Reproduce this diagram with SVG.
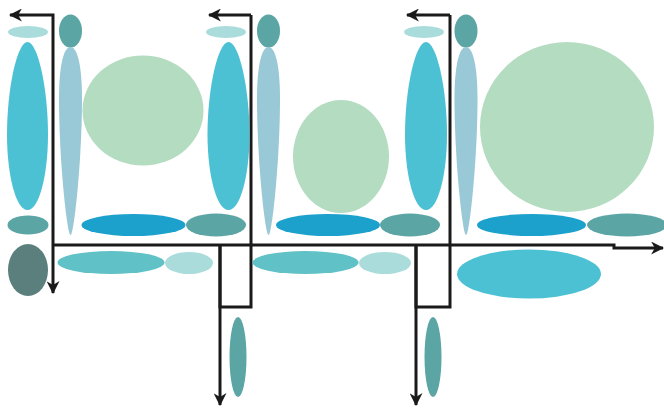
<svg xmlns="http://www.w3.org/2000/svg" width="664" height="408" viewBox="0 0 664 408">
<style>
.ln{fill:none;stroke:#1a1a1a;stroke-width:3;stroke-linejoin:miter}
.cy{fill:#4dc1d4}.lb{fill:#99c8d6}.tl{fill:#5ba5a5}.pl{fill:#abdcdc}.gr{fill:#b3dcc1}.bl{fill:#1ca0cc}.cz{fill:#60c2c6}.sl{fill:#5a7f7c}
</style>
<defs>
<path id="eggUp" d="M0,-1 C0.5,-1 1,-0.45 1,0.1 C1,0.595 0.55,1 0,1 C-0.55,1 -1,0.595 -1,0.1 C-1,-0.45 -0.5,-1 0,-1Z"/>
<path id="eggDown" d="M0,-1 C0.6,-1 1,-0.8 1,-0.45 C1,0.2 0.3,1 0,1 C-0.3,1 -1,0.2 -1,-0.45 C-1,-0.8 -0.6,-1 0,-1Z"/>
<marker id="ah" viewBox="0 0 12 12" refX="11" refY="6" markerWidth="13" markerHeight="13" markerUnits="userSpaceOnUse" orient="auto">
<path d="M0,0 L12,6 L0,12 L3.5,6 Z" fill="#1a1a1a"/>
</marker>
</defs>
<g id="connectors">
<path class="ln" d="M53,245 V15 H10" marker-end="url(#ah)"/>
<path class="ln" d="M53,245 V293" marker-end="url(#ah)"/>
<path class="ln" d="M53,245 H614 V248 H663" marker-end="url(#ah)"/>
<path class="ln" d="M251,15 H209" marker-end="url(#ah)"/>
<path class="ln" d="M251,15 V307 H220 V245"/>
<path class="ln" d="M220,245 V405" marker-end="url(#ah)"/>
<path class="ln" d="M450,15 H407" marker-end="url(#ah)"/>
<path class="ln" d="M450,15 V307 H416 V245"/>
<path class="ln" d="M416,245 V405" marker-end="url(#ah)"/>
</g>
<g id="group1">
<ellipse class="pl" cx="28" cy="32" rx="20" ry="6"/>
<use href="#eggUp" class="cy" transform="translate(27.5,126) scale(20.5,84)"/>
<ellipse class="tl" cx="70.5" cy="31" rx="11.5" ry="16.5"/>
<use href="#eggDown" class="lb" transform="translate(70.5,141) scale(11.5,94)"/>
<ellipse class="gr" cx="143" cy="110.5" rx="60.5" ry="55"/>
<ellipse class="tl" cx="28" cy="225" rx="20.5" ry="9.5"/>
<ellipse class="sl" cx="28" cy="270" rx="20" ry="26"/>
<ellipse class="bl" cx="133.5" cy="225" rx="52" ry="11"/>
<ellipse class="cz" cx="111" cy="262.5" rx="53.5" ry="11.5"/>
<ellipse class="pl" cx="189" cy="263" rx="24" ry="11"/>
</g>
<g id="group2">
<ellipse class="pl" cx="226" cy="32" rx="20" ry="6"/>
<use href="#eggUp" class="cy" transform="translate(228.5,126) scale(21,84)"/>
<ellipse class="tl" cx="268.5" cy="31" rx="11.5" ry="16.5"/>
<use href="#eggDown" class="lb" transform="translate(268.5,141) scale(11.5,94)"/>
<ellipse class="gr" cx="341" cy="156.5" rx="48" ry="56.5"/>
<ellipse class="tl" cx="216" cy="225" rx="30" ry="11.5"/>
<ellipse class="bl" cx="328" cy="225" rx="52" ry="11"/>
<ellipse class="cz" cx="305.5" cy="262.5" rx="53" ry="11.5"/>
<ellipse class="pl" cx="385" cy="263" rx="26" ry="11"/>
<ellipse class="tl" cx="238" cy="357" rx="8.5" ry="40"/>
</g>
<g id="group3">
<ellipse class="pl" cx="424" cy="32" rx="20" ry="6"/>
<use href="#eggUp" class="cy" transform="translate(426,126) scale(21,84)"/>
<ellipse class="tl" cx="466" cy="31" rx="11.5" ry="16.5"/>
<use href="#eggDown" class="lb" transform="translate(466,141) scale(11.5,94)"/>
<ellipse class="gr" cx="567" cy="127" rx="87" ry="85"/>
<ellipse class="tl" cx="410" cy="225" rx="30" ry="11.5"/>
<ellipse class="bl" cx="531.5" cy="225" rx="54.5" ry="11"/>
<ellipse class="tl" cx="627" cy="225" rx="40" ry="11.5"/>
<ellipse class="cy" cx="529" cy="274" rx="72" ry="24.5"/>
<ellipse class="tl" cx="433" cy="357" rx="8.5" ry="40"/>
</g>
</svg>
